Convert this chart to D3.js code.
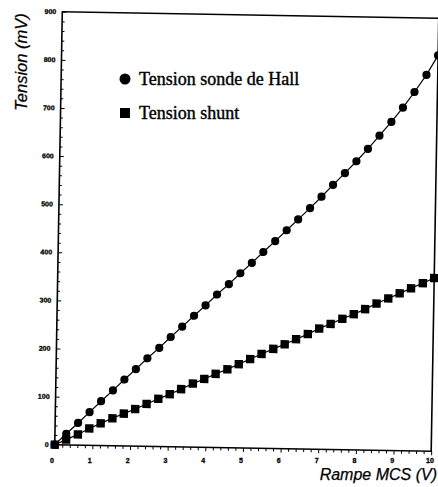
<!DOCTYPE html>
<html>
<head>
<meta charset="utf-8">
<script src="https://cdn.jsdelivr.net/npm/d3@7"></script>
<style>
  html, body { margin: 0; padding: 0; background: #fff; }
  svg { display: block; }
</style>
</head>
<body>
<svg id="chart" width="438" height="487"></svg>
<script>
// Ramp MCS (V)
const ramp = [0, 0.30, 0.61, 0.91, 1.21, 1.52, 1.82, 2.12, 2.42, 2.73, 3.03, 3.33, 3.64, 3.94, 4.24, 4.55, 4.85,
              5.15, 5.45, 5.76, 6.06, 6.36, 6.67, 6.97, 7.27, 7.58, 7.88, 8.18, 8.48, 8.79, 9.09, 9.39, 9.70, 10.0];
// Tension sonde de Hall (mV)
const hall = [0, 23, 46, 69, 92, 115, 138, 160, 183, 205, 228, 250, 273, 295, 318, 340, 363,
              385, 408, 431, 454, 477, 501, 525, 550, 575, 600, 626, 654, 683, 713, 746, 782, 823];
// Tension shunt (mV)
const shunt = [0, 11, 22, 35, 46, 57, 67, 77, 88, 99, 109, 120, 132, 142, 153, 163, 174,
               185, 196, 207, 217, 228, 239, 251, 261, 272, 282, 293, 305, 316, 327, 338, 349, 360];
const xTicks = [0, 1, 2, 3, 4, 5, 6, 7, 8, 9, 10];
const yTicks = [0, 100, 200, 300, 400, 500, 600, 700, 800, 900];
const legendLabels = ["Tension sonde de Hall", "Tension shunt"];
const xTitle = "Rampe MCS (V)";
const yTitle = "Tension (mV)";

const svg = d3.select("#chart");
const x = d3.scaleLinear().domain([0, 10]).range([58.5, 435]);
const y = d3.scaleLinear().domain([0, 900]).range([448, 15]);

// plot area (slightly rotated like the scanned figure)
const g = svg.append("g").attr("transform", "rotate(1,247,231)");

g.append("rect")
  .attr("x", x(0)).attr("y", y(900))
  .attr("width", x(10) - x(0)).attr("height", y(0) - y(900))
  .attr("fill", "none").attr("stroke", "#000").attr("stroke-width", 1.6);

// minor + major ticks, left axis (inward)
const yMinor = d3.range(0, 901, 20);
const yAx = g.append("g").attr("transform", `translate(${x(0)},0)`)
  .call(d3.axisRight(y).tickValues(yMinor).tickSize(3).tickFormat(""));
yAx.select(".domain").remove();
yAx.selectAll(".tick line").attr("stroke", "#000").attr("stroke-width", 1)
  .attr("x2", d => (d % 100 === 0 ? 4 : 2.5));

// bottom axis ticks (outward)
const xMinor = d3.range(0, 10.01, 0.2);
const xAx = g.append("g").attr("transform", `translate(0,${y(0)})`)
  .call(d3.axisBottom(x).tickValues(xMinor).tickSize(3).tickFormat(""));
xAx.select(".domain").remove();
xAx.selectAll(".tick line").attr("stroke", "#000").attr("stroke-width", 1)
  .attr("y2", (d, i) => (i % 5 === 0 ? 4 : 3));

// y tick labels
g.append("g").selectAll("text").data(yTicks).join("text")
  .attr("x", x(0) - 6).attr("y", d => y(d) + 2.5)
  .attr("text-anchor", "end")
  .attr("font-family", "Liberation Sans, Arial, sans-serif")
  .attr("font-weight", "bold").attr("font-size", 7)
  .attr("stroke", "#000").attr("stroke-width", 0.3)
  .text(d => d);

// lines
const line = d3.line().x(d => x(d[0])).y(d => y(d[1]));
const hallPts = ramp.map((v, i) => [v, hall[i]]);
const shuntPts = ramp.map((v, i) => [v, shunt[i]]);

g.append("path").datum(hallPts).attr("d", line)
  .attr("fill", "none").attr("stroke", "#000").attr("stroke-width", 1.2);
g.append("path").datum(shuntPts).attr("d", line)
  .attr("fill", "none").attr("stroke", "#000").attr("stroke-width", 1.2);

g.append("g").selectAll("circle").data(hallPts).join("circle")
  .attr("cx", d => x(d[0])).attr("cy", d => y(d[1])).attr("r", 4.1).attr("fill", "#000");
const sq = 8.4;
g.append("g").selectAll("rect").data(shuntPts).join("rect")
  .attr("x", d => x(d[0]) - sq / 2).attr("y", d => y(d[1]) - sq / 2)
  .attr("width", sq).attr("height", sq).attr("fill", "#000");

// x tick labels (horizontal, as on the page)
const xl = d3.scaleLinear().domain([0, 10]).range([52, 430]);
svg.append("g").selectAll("text").data(xTicks).join("text")
  .attr("x", d => xl(d)).attr("y", 463)
  .attr("text-anchor", "middle")
  .attr("font-family", "Liberation Sans, Arial, sans-serif")
  .attr("font-weight", "bold").attr("font-size", 7)
  .attr("stroke", "#000").attr("stroke-width", 0.3)
  .text(d => d);

// axis titles
svg.append("text")
  .attr("transform", "translate(27,62) rotate(-90)")
  .attr("text-anchor", "middle")
  .attr("font-family", "Liberation Sans, Arial, sans-serif")
  .attr("font-style", "italic").attr("font-size", 16.5)
  .attr("stroke", "#000").attr("stroke-width", 0.25)
  .text(yTitle);
svg.append("text")
  .attr("x", 437).attr("y", 480)
  .attr("text-anchor", "end")
  .attr("font-family", "Liberation Sans, Arial, sans-serif")
  .attr("font-style", "italic").attr("font-size", 16)
  .attr("stroke", "#000").attr("stroke-width", 0.25)
  .text(xTitle);

// legend
const leg = svg.append("g");
leg.append("circle").attr("cx", 125).attr("cy", 79).attr("r", 5.5).attr("fill", "#000");
leg.append("rect").attr("x", 120).attr("y", 108).attr("width", 10).attr("height", 10).attr("fill", "#000");
leg.selectAll("text").data(legendLabels).join("text")
  .attr("x", 139).attr("y", (d, i) => (i === 0 ? 85 : 118.5))
  .attr("font-family", "Liberation Serif, Times New Roman, serif")
  .attr("font-size", 18)
  .attr("stroke", "#000").attr("stroke-width", 0.4)
  .text(d => d);
</script>
</body>
</html>
